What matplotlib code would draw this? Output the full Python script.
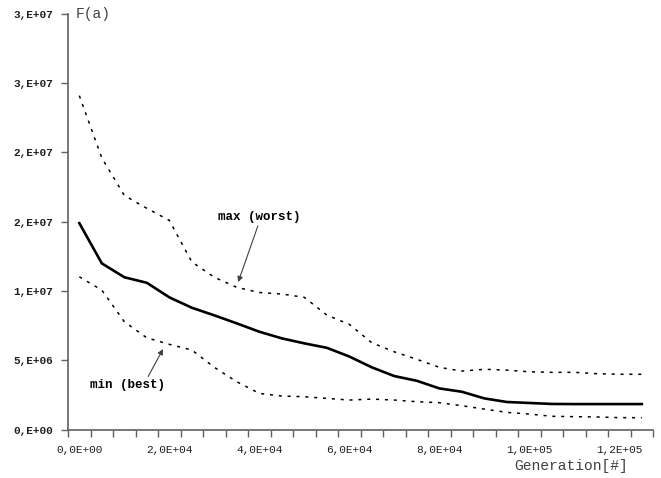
import matplotlib
matplotlib.use("Agg")
import matplotlib.pyplot as plt
import numpy as np

# Data (one point every 5000 generations)
generations = np.arange(0, 125001, 5000)
f_mean = [14.9e6, 12.0e6, 11.0e6, 10.6e6, 9.55e6, 8.8e6, 8.25e6, 7.67e6, 7.07e6,
          6.59e6, 6.23e6, 5.91e6, 5.28e6, 4.5e6, 3.87e6, 3.53e6, 2.98e6, 2.74e6,
          2.26e6, 2.0e6, 1.93e6, 1.86e6, 1.85e6, 1.85e6, 1.85e6, 1.85e6]
f_max = [24.1e6, 19.6e6, 16.9e6, 15.97e6, 15.1e6, 12.1e6, 11.0e6, 10.27e6, 9.9e6,
         9.79e6, 9.55e6, 8.27e6, 7.6e6, 6.27e6, 5.62e6, 5.08e6, 4.5e6, 4.23e6,
         4.36e6, 4.3e6, 4.18e6, 4.14e6, 4.14e6, 4.04e6, 4.0e6, 4.0e6]
f_min = [11.03e6, 10.07e6, 7.79e6, 6.63e6, 6.16e6, 5.75e6, 4.5e6, 3.46e6, 2.62e6,
         2.43e6, 2.38e6, 2.26e6, 2.14e6, 2.21e6, 2.14e6, 2.02e6, 1.95e6, 1.73e6,
         1.49e6, 1.25e6, 1.13e6, 0.97e6, 0.94e6, 0.92e6, 0.87e6, 0.87e6]

y_ticks = [0, 5e6, 10e6, 15e6, 20e6, 25e6, 30e6]
y_labels = ["0,E+00", "5,E+06", "1,E+07", "2,E+07", "2,E+07", "3,E+07", "3,E+07"]
x_label_pos = [0, 20000, 40000, 60000, 80000, 100000, 120000]
x_labels = ["0,0E+00", "2,0E+04", "4,0E+04", "6,0E+04", "8,0E+04", "1,0E+05", "1,2E+05"]

mono = ["Liberation Mono", "DejaVu Sans Mono"]
axis_color = "#606060"

fig = plt.figure(figsize=(6.61, 4.78), dpi=100)
ax = fig.add_axes([0.103, 0.101, 0.885, 0.870])

dots = (0, (2, 3.8))
ax.plot(generations, f_max, color="black", linewidth=1.1, linestyle=dots)
ax.plot(generations, f_mean, color="black", linewidth=1.9)
ax.plot(generations, f_min, color="black", linewidth=1.1, linestyle=dots)

ax.set_xlim(-2500, 127500)
ax.set_ylim(0, 30e6)

# category-style axis: marks between categories, labels on every 4th one
ax.set_xticks(np.arange(-2500, 127501, 5000))
ax.set_xticklabels([])
ax.set_xticks(x_label_pos, minor=True)
ax.set_xticklabels(x_labels, minor=True, fontfamily=mono, fontsize=8, color="#202020")
ax.tick_params(axis="x", which="major", direction="out", length=5, width=1, color=axis_color)
ax.tick_params(axis="x", which="minor", length=0, pad=11)

ax.set_yticks(y_ticks)
ax.set_yticklabels(y_labels, fontfamily=mono, fontsize=8, fontweight="bold", color="#202020")
ax.tick_params(axis="y", direction="out", length=5, width=1, color=axis_color, pad=6)

for side in ["top", "right"]:
    ax.spines[side].set_visible(False)
for side in ["left", "bottom"]:
    ax.spines[side].set_color(axis_color)
    ax.spines[side].set_linewidth(1.2)

ax.text(0.013, 1.0, "F(a)", transform=ax.transAxes, ha="left", va="center",
        fontfamily=mono, fontsize=10.5, color="#404040")
ax.text(0.957, -0.087, "Generation[#]", transform=ax.transAxes, ha="right", va="center",
        fontfamily=mono, fontsize=10.5, color="#404040")

arrow = dict(arrowstyle="-|>", color="#404040", lw=0.8, mutation_scale=8, shrinkA=0, shrinkB=0)
ax.annotate("max (worst)", xy=(35300, 10.65e6), xytext=(39900, 15.34e6),
            ha="center", va="center", fontfamily=mono, fontsize=9, fontweight="bold",
            arrowprops=dict(arrow, relpos=(0.5, 0.0)))
ax.annotate("min (best)", xy=(18600, 5.82e6), xytext=(10800, 3.21e6),
            ha="center", va="center", fontfamily=mono, fontsize=9, fontweight="bold",
            arrowprops=dict(arrow, relpos=(0.75, 1.0)))

fig.savefig("out.png", dpi=100)
